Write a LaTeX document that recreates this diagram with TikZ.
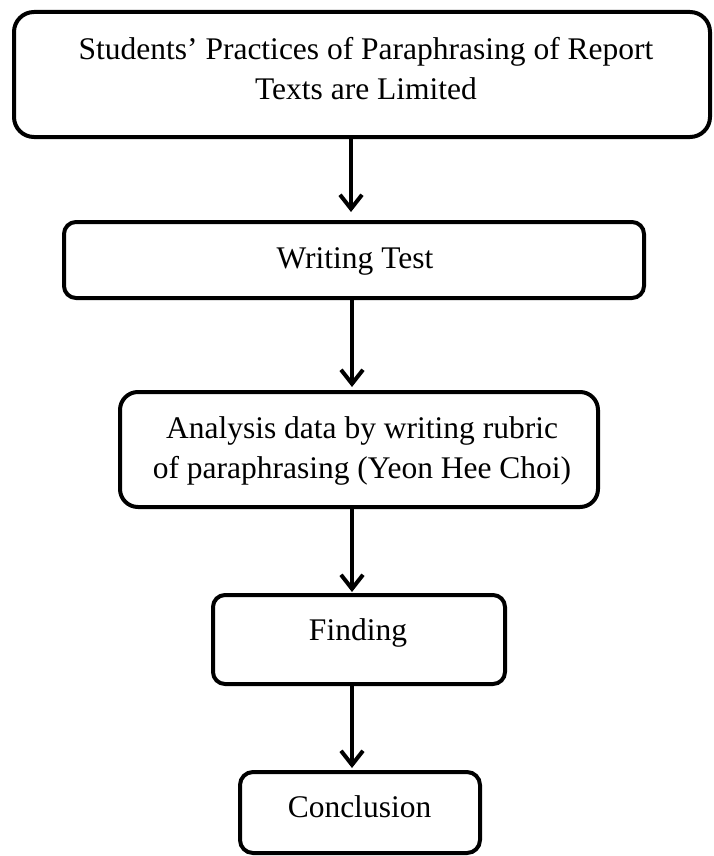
\documentclass[tikz,border=0pt]{standalone}
\usepackage{fontspec}
\setmainfont{Liberation Serif}
\usetikzlibrary{arrows.meta}
\begin{document}
\begin{tikzpicture}[x=1pt,y=-1pt,
  stage/.style={draw=black, line width=4pt, inner sep=0pt, outer sep=0pt, fill=white},
  lbl/.style={anchor=base, inner sep=0pt, font=\fontsize{31.5}{40}\selectfont},
  flow/.style={line width=4pt, -{Straight Barb[length=14pt,width=22pt,line width=4pt]}}]
\useasboundingbox (0,0) rectangle (714,856);
\node[stage, rounded corners=20pt, minimum width=696pt, minimum height=125pt] (b1) at (362,74.5) {};
\node[stage, rounded corners=12pt, minimum width=580pt, minimum height=76pt] (b2) at (354,260) {};
\node[stage, rounded corners=18pt, minimum width=478pt, minimum height=115pt] (b3) at (359,449.5) {};
\node[stage, rounded corners=12pt, minimum width=292pt, minimum height=89pt] (b4) at (359,639.5) {};
\node[stage, rounded corners=13pt, minimum width=240pt, minimum height=81pt] (b5) at (360,812.5) {};
\node[lbl] (t1a) at (366,60) {Students’ Practices of Paraphrasing of Report};
\node[lbl] (t1b) at (366,100) {Texts are Limited};
\node[lbl] (t2) at (355,268) {Writing Test};
\node[lbl] (t3a) at (362,438) {Analysis data by writing rubric};
\node[lbl] (t3b) at (362,478) {of paraphrasing (Yeon Hee Choi)};
\node[lbl] (t4) at (358,640) {Finding};
\node[lbl] (t5) at (359.5,817) {Conclusion};
\coordinate (xa) at (351,0);
\coordinate (xb) at (352,0);
\draw[flow, shorten >=10pt] (b1.south -| xa) -- (b2.north -| xa);
\draw[flow, shorten >=5pt] (b2.south -| xb) -- (b3.north -| xb);
\draw[flow, shorten >=3pt] (b3.south -| xb) -- (b4.north -| xb);
\draw[flow, shorten >=4pt] (b4.south -| xb) -- (b5.north -| xb);
\end{tikzpicture}
\end{document}
